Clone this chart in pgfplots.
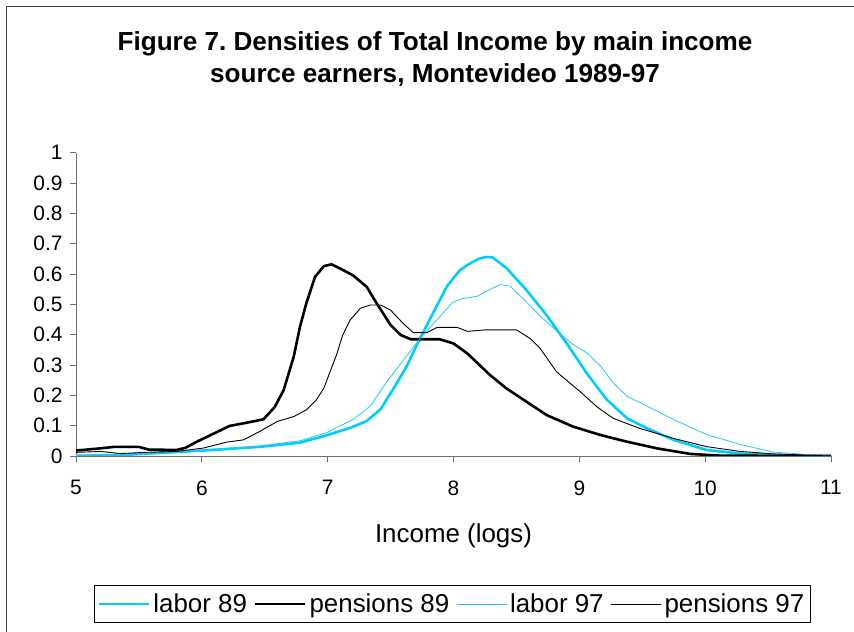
\documentclass[border=0pt]{standalone}
\usepackage{pgfplots}
\pgfplotsset{compat=1.18}
\usepackage{fontspec}
\setmainfont{Liberation Sans}
\definecolor{cy}{RGB}{0,204,255}
\definecolor{cyl}{RGB}{30,200,255}
\definecolor{axgray}{RGB}{110,110,110}
\begin{document}
\begin{tikzpicture}
\useasboundingbox (0,0) rectangle (854bp,632bp);
\draw[line width=1.6bp, black!75] (6.6bp,-30bp) rectangle (900bp,625.4bp);
\begin{axis}[
  at={(76bp,176bp)}, anchor=south west,
  scale only axis, width=755bp, height=303.3bp,
  xmin=5, xmax=11, ymin=0, ymax=1,
  axis x line*=bottom, axis y line*=left,
  axis line style={axgray, line width=0.9bp},
  xtick={5,6,7,8,9,10,11},
  ytick={0,0.1,0.2,0.3,0.4,0.5,0.6,0.7,0.8,0.9,1},
  yticklabels={0,0.1,0.2,0.3,0.4,0.5,0.6,0.7,0.8,0.9,1},
  xticklabels={5,6,7,8,9,10,11},
  tick align=outside, major tick length=6bp,
  tick style={axgray, line width=0.9bp},
  ticklabel style={font=\fontsize{21}{24}\selectfont},
  /pgf/number format/assume math mode=true,
  xticklabel style={yshift=-15bp},
  yticklabel style={xshift=-4bp},
  title={Figure 7.\ Densities of Total Income by main income\\source earners, Montevideo 1989-97},
  title style={at={(axis description cs:0.4755,1.289)}, anchor=center, align=center,
    font=\bfseries\fontsize{26.2}{32}\selectfont},
  xlabel={Income (logs)},
  xlabel style={at={(axis description cs:0.5,-0.2637)}, anchor=center,
    font=\fontsize{26}{30}\selectfont},
  legend columns=4,
  legend style={at={(axis description cs:0.4987,-0.488)}, anchor=center,
    draw=black, line width=1.1bp, inner xsep=3bp, inner ysep=7bp,
    font=\fontsize{26}{30}\selectfont,
    /tikz/every even column/.append style={column sep=4bp},
    nodes={inner xsep=3bp, inner ysep=1bp}},
  legend image code/.code={\draw[#1] (0bp,0bp) -- (50bp,0bp);},
]
\addplot[cy, line width=2.6bp] coordinates {
(5.00,0.000) (5.40,0.004) (6.01,0.018) (6.46,0.030) (6.78,0.044) (6.99,0.068)
(7.18,0.093) (7.31,0.115) (7.42,0.154) (7.52,0.220) (7.63,0.297) (7.73,0.385)
(7.84,0.473) (7.95,0.561) (8.05,0.612) (8.12,0.632) (8.20,0.650) (8.26,0.656)
(8.31,0.655) (8.42,0.620) (8.58,0.547) (8.74,0.464) (8.90,0.371) (9.06,0.272)
(9.22,0.185) (9.38,0.124) (9.54,0.091) (9.75,0.053) (10.01,0.020) (10.28,0.008)
(10.54,0.003) (11.00,0.000)};
\addlegendentry{labor 89}
\addplot[black, line width=2.6bp] coordinates {
(5.00,0.018) (5.19,0.025) (5.30,0.030) (5.50,0.030) (5.58,0.021) (5.80,0.020)
(5.87,0.027) (5.95,0.045) (6.07,0.069) (6.22,0.099) (6.36,0.110) (6.49,0.121)
(6.58,0.162) (6.65,0.217) (6.73,0.327) (6.78,0.426) (6.83,0.503) (6.90,0.591)
(6.97,0.626) (7.03,0.632) (7.10,0.618) (7.20,0.596) (7.31,0.558) (7.39,0.503)
(7.50,0.432) (7.58,0.399) (7.66,0.385) (7.89,0.385) (8.00,0.371) (8.11,0.338)
(8.29,0.267) (8.42,0.223) (8.58,0.179) (8.74,0.135) (8.95,0.097) (9.17,0.069)
(9.38,0.047) (9.62,0.025) (9.88,0.007) (10.12,0.001) (11.00,0.000)};
\addlegendentry{pensions 89}
\addplot[cyl, line width=0.8bp] coordinates {
(5.00,0.003) (5.40,0.006) (6.01,0.020) (6.46,0.033) (6.78,0.050) (6.99,0.077)
(7.20,0.120) (7.34,0.165) (7.47,0.245) (7.60,0.315) (7.73,0.385) (7.87,0.450)
(7.99,0.505) (8.06,0.518) (8.19,0.527) (8.26,0.543) (8.37,0.565) (8.45,0.560)
(8.56,0.516) (8.69,0.461) (8.82,0.412) (8.95,0.368) (9.06,0.340) (9.17,0.296)
(9.27,0.241) (9.38,0.197) (9.54,0.164) (9.75,0.120) (10.01,0.071) (10.28,0.038)
(10.54,0.013) (10.80,0.005) (11.00,0.000)};
\addlegendentry{labor 97}
\addplot[black, line width=0.9bp] coordinates {
(5.00,0.012) (5.20,0.015) (5.35,0.008) (5.55,0.012) (5.80,0.015) (6.01,0.026)
(6.20,0.046) (6.33,0.053) (6.46,0.081) (6.60,0.114) (6.73,0.130) (6.83,0.152)
(6.91,0.185) (6.97,0.224) (7.02,0.279) (7.07,0.333) (7.12,0.399) (7.18,0.449)
(7.26,0.487) (7.34,0.498) (7.42,0.498) (7.50,0.481) (7.60,0.437) (7.68,0.407)
(7.79,0.407) (7.87,0.424) (8.03,0.424) (8.11,0.411) (8.26,0.416) (8.50,0.416)
(8.61,0.387) (8.69,0.354) (8.82,0.277) (9.01,0.211) (9.14,0.162) (9.27,0.124)
(9.48,0.091) (9.75,0.058) (10.01,0.031) (10.28,0.015) (10.54,0.007) (11.00,0.000)};
\addlegendentry{pensions 97}
\end{axis}
\end{tikzpicture}
\end{document}
